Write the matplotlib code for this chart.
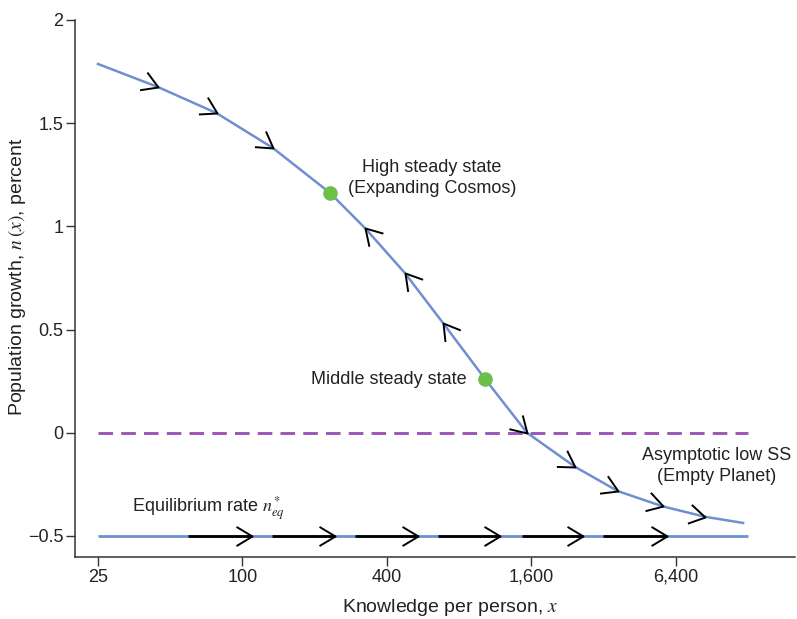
import matplotlib
matplotlib.use('Agg')
import matplotlib.pyplot as plt
import numpy as np
from matplotlib.markers import MarkerStyle
from matplotlib.path import Path
from matplotlib.transforms import Affine2D
from matplotlib.ticker import FixedLocator, FixedFormatter, NullLocator

plt.rcParams['font.family'] = ['Liberation Sans', 'DejaVu Sans']
plt.rcParams['mathtext.fontset'] = 'stix'

# ---- data ----
curve_x = [25, 44.5, 78, 134, 232, 325, 476, 686, 1027, 1537, 2437, 3681, 5670, 8490, 12230]
curve_y = [1.787, 1.675, 1.549, 1.380, 1.162, 0.991, 0.774, 0.532, 0.261, 0.0,
           -0.165, -0.283, -0.357, -0.407, -0.437]

# arrows on the curve: index into curve and direction (+1 right / -1 left)
arrow_idx = [1, 2, 3, 5, 6, 7, 9, 10, 11, 12, 13]
arrow_dir = [1, 1, 1, -1, -1, -1, 1, 1, 1, 1, 1]

ss_x = [232, 1027]
ss_y = [1.162, 0.261]

zero_x = [25, 12800]
zero_y = [0, 0]

eq_x = [25, 12800]
eq_y = [-0.5, -0.5]
eq_start = [59.3, 133, 295, 654, 1465, 3190]
eq_end = [110, 243, 540, 1186, 2630, 5900]

xtick_vals = [25, 100, 400, 1600, 6400]
xtick_labels = ['25', '100', '400', '1,600', '6,400']
ytick_vals = [-0.5, 0, 0.5, 1, 1.5, 2]
ytick_labels = ['\u22120.5', '0', '0.5', '1', '1.5', '2']

# ---- styling ----
BLUE = '#6f8fd0'
GREEN = '#6cc04a'
PURPLE = '#9b55b8'
TXT = '#222222'

fig = plt.figure(figsize=(7.97, 6.19), dpi=100)
ax = fig.add_axes([75 / 797, 62 / 619, 720 / 797, 537 / 619])
ax.set_xscale('log')
ax.set_xlim(20.05, 20140)
ax.set_ylim(-0.602, 2.0)

ax.spines['top'].set_visible(False)
ax.spines['right'].set_visible(False)
for s in ('left', 'bottom'):
    ax.spines[s].set_color('#333333')
    ax.spines[s].set_linewidth(1.1)

ax.xaxis.set_major_locator(FixedLocator(xtick_vals))
ax.xaxis.set_major_formatter(FixedFormatter(xtick_labels))
ax.xaxis.set_minor_locator(NullLocator())
ax.yaxis.set_major_locator(FixedLocator(ytick_vals))
ax.yaxis.set_major_formatter(FixedFormatter(ytick_labels))
ax.tick_params(direction='out', length=6.5, width=1.0, color='#333333',
               labelsize=13, labelcolor=TXT, pad=2)

ax.set_xlabel('Knowledge per person, $x$', fontsize=14, color=TXT)
ax.set_ylabel('Population growth, $n\\,(x)$, percent', fontsize=14, color=TXT)
ax.xaxis.set_label_coords((450 - 75) / 720, -(607 - 557) / 537)
ax.yaxis.set_label_coords((17 - 75) / 720, (557 - 277) / 537)
ax.xaxis.label.set_va('center')
ax.yaxis.label.set_va('center')

# lines
ax.plot(zero_x, zero_y, color=PURPLE, lw=2.1, dashes=(5, 2.8), zorder=2)
ax.plot(eq_x, eq_y, color=BLUE, lw=2.0, zorder=2, solid_capstyle='butt')
ax.plot(curve_x, curve_y, color=BLUE, lw=1.8, zorder=3)

# chevron marker
chev = Path([(-1.0, 0.6), (0, 0), (-1.0, -0.6)], [Path.MOVETO, Path.LINETO, Path.LINETO])

def chevron(x, y, angle):
    m = MarkerStyle(chev, fillstyle='none', transform=Affine2D().rotate_deg(angle))
    ax.plot([x], [y], marker=m, markersize=23, markeredgecolor='black',
            markerfacecolor='none', markeredgewidth=1.4, linestyle='none', zorder=5)

# equilibrium arrows
for s, e in zip(eq_start, eq_end):
    ax.plot([s, e], [-0.5, -0.5], color='black', lw=2.0, zorder=4, solid_capstyle='butt')
    chevron(e, -0.5, 0)

# curve arrows (direction from tangent in display space)
for i, d in zip(arrow_idx, arrow_dir):
    p0 = ax.transData.transform((curve_x[i - 1], curve_y[i - 1]))
    p1 = ax.transData.transform((curve_x[i + 1], curve_y[i + 1]))
    ang = np.degrees(np.arctan2(p1[1] - p0[1], p1[0] - p0[0]))
    if d < 0:
        ang += 180
    chevron(curve_x[i], curve_y[i], ang)

ax.plot(ss_x, ss_y, 'o', color=GREEN, markersize=9.5, zorder=6)

# annotations
ax.text(617, 1.234, 'High steady state\n(Expanding Cosmos)', ha='center', va='center',
        fontsize=13, color=TXT, linespacing=1.3)
ax.text(864, 0.256, 'Middle steady state', ha='right', va='center', fontsize=13, color=TXT)
ax.text(9523, -0.161, 'Asymptotic low SS\n(Empty Planet)', ha='center', va='center',
        fontsize=13, color=TXT, linespacing=1.3)
ax.text(34.6, -0.364, 'Equilibrium rate $n^*_{eq}$', ha='left', va='center',
        fontsize=13, color=TXT)

fig.savefig('out.png', dpi=100)
